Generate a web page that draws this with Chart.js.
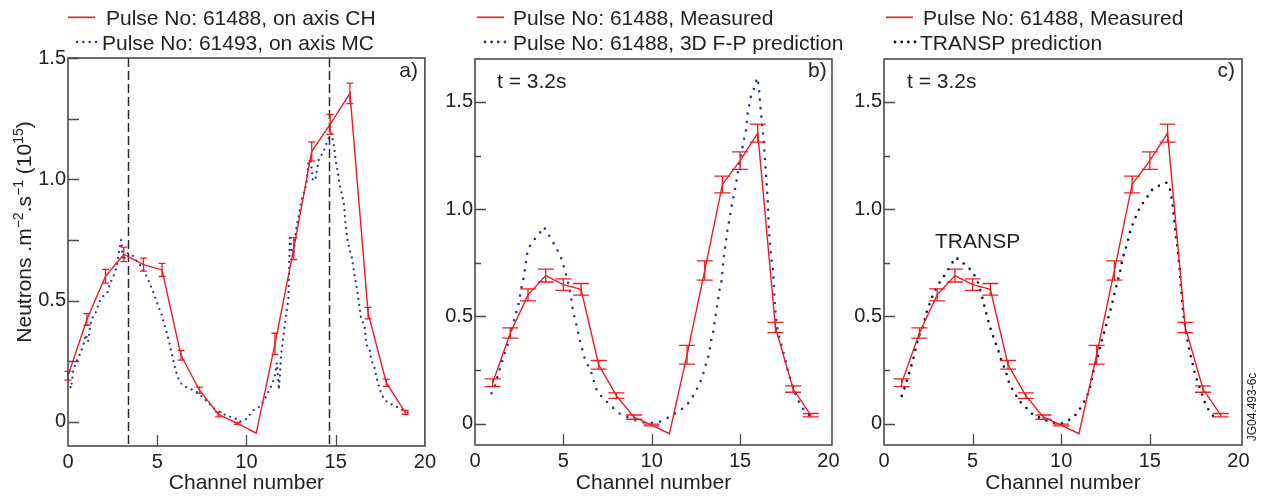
<!DOCTYPE html>
<html><head><meta charset="utf-8">
<script src="https://cdn.jsdelivr.net/npm/chart.js@4.4.1/dist/chart.umd.min.js"></script>
<style>
html,body{margin:0;padding:0;background:#fff;}
#wrap{position:relative;width:1265px;height:497px;overflow:hidden;background:#fff;}
canvas{position:absolute;top:0;}
</style></head><body>
<div id="wrap">
<canvas id="ca" width="440" height="497" style="left:0px"></canvas>
<canvas id="cb" width="420" height="497" style="left:430px"></canvas>
<canvas id="cc" width="425" height="497" style="left:840px"></canvas>
</div>
<script>
// ---------- data ----------
const xTickValues = [0, 5, 10, 15, 20];
const yTickValues = [0, 0.25, 0.5, 0.75, 1.0, 1.25, 1.5];
const channels = [1, 2, 3, 4, 5, 6, 7, 8, 9, 10, 11, 12, 13, 14, 15, 16, 17, 18, 19];
const measuredY = [0.19, 0.422, 0.60, 0.69, 0.648, 0.626, 0.274, 0.13, 0.03, -0.007, -0.047, 0.321, 0.714, 1.115, 1.226, 1.354, 0.448, 0.161, 0.039];
const measuredErr = [0.018, 0.024, 0.028, 0.03, 0.027, 0.027, 0.02, 0.013, 0.01, 0.004, 0, 0.044, 0.045, 0.039, 0.041, 0.042, 0.024, 0.015, 0.008];
// panel a: positions of the measured channels on its own axis
const aMeasuredX = [0, 1.06, 2.1, 3.13, 4.23, 5.27, 6.33, 7.37, 8.43, 9.49, 10.55, 11.6, 12.65, 13.66, 14.69, 15.8, 16.82, 17.84, 18.9];
// panel a: pulse 61493 on axis MC
const aMcX = [0.0, 0.1, 0.17, 0.3, 0.45, 0.62, 0.84, 1.0, 1.12, 1.3, 1.55, 1.8, 2.0, 2.2, 2.35, 2.55, 2.7, 2.97, 3.1, 3.3, 3.53, 3.81, 4.0, 4.18, 4.4, 4.59, 4.8, 5.01, 5.24, 5.4, 5.53, 5.7, 5.85, 6.0, 6.13, 6.31, 6.55, 6.78, 7.05, 7.33, 7.55, 7.8, 8.05, 8.26, 8.55, 8.82, 9.1, 9.38, 9.56, 9.8, 10.0, 10.15, 10.3, 10.55, 10.77, 11.0, 11.2, 11.35, 11.5, 11.62, 11.7, 11.82, 11.95, 12.07, 12.17, 12.26, 12.35, 12.44, 12.55, 12.63, 12.72, 12.81, 12.9, 13.0, 13.09, 13.24, 13.37, 13.48, 13.6, 13.72, 13.85, 14.06, 14.3, 14.48, 14.62, 14.76, 14.89, 15.0, 15.1, 15.23, 15.36, 15.47, 15.54, 15.65, 15.78, 15.91, 16.06, 16.16, 16.34, 16.43, 16.62, 16.71, 16.9, 16.99, 17.18, 17.36, 17.55, 17.73, 18.0, 18.38, 18.75, 19.12];
const aMcY = [0.165, 0.15, 0.138, 0.215, 0.245, 0.27, 0.31, 0.36, 0.33, 0.42, 0.45, 0.5, 0.52, 0.53, 0.57, 0.6, 0.632, 0.75, 0.665, 0.694, 0.694, 0.667, 0.65, 0.632, 0.6, 0.569, 0.53, 0.486, 0.444, 0.4, 0.368, 0.32, 0.27, 0.22, 0.188, 0.16, 0.145, 0.139, 0.128, 0.118, 0.1, 0.083, 0.065, 0.049, 0.038, 0.028, 0.02, 0.014, 0.0, 0.004, 0.012, 0.025, 0.042, 0.055, 0.063, 0.09, 0.118, 0.14, 0.167, 0.2, 0.243, 0.132, 0.28, 0.354, 0.41, 0.458, 0.51, 0.77, 0.7, 0.68, 0.757, 0.805, 0.839, 0.875, 0.914, 0.948, 0.982, 1.07, 1.08, 0.996, 0.995, 1.084, 1.11, 1.146, 1.17, 1.19, 1.146, 1.078, 1.037, 0.975, 0.935, 0.894, 0.826, 0.757, 0.71, 0.676, 0.604, 0.563, 0.472, 0.424, 0.396, 0.319, 0.299, 0.257, 0.222, 0.16, 0.118, 0.09, 0.076, 0.063, 0.049, 0.035];
// panel b: 3D F-P prediction
const bFpX = [0.94, 1.13, 1.28, 1.43, 1.57, 1.72, 1.89, 2.04, 2.17, 2.28, 2.42, 2.51, 2.6, 2.7, 2.79, 2.89, 2.98, 3.26, 3.55, 3.89, 4.34, 4.58, 4.77, 4.96, 5.11, 5.26, 5.43, 5.53, 5.68, 5.81, 5.94, 6.06, 6.19, 6.62, 6.75, 6.94, 7.23, 7.6, 7.92, 8.26, 8.74, 9.2, 9.77, 10.25, 10.72, 11.09, 11.47, 11.9, 12.23, 12.5, 12.74, 12.89, 13.04, 13.23, 13.36, 13.49, 13.64, 13.74, 13.83, 13.96, 14.02, 14.11, 14.21, 14.3, 14.4, 14.49, 14.58, 14.68, 14.77, 14.92, 15.06, 15.21, 15.34, 15.43, 15.62, 15.81, 15.96, 16.06, 16.13, 16.23, 16.34, 16.43, 16.51, 16.57, 16.62, 16.7, 16.78, 16.85, 16.91, 16.94, 17.04, 17.13, 17.26, 17.42, 17.57, 17.75, 17.98, 18.17, 18.45, 18.74, 18.92];
const bFpY = [0.141, 0.176, 0.223, 0.262, 0.3, 0.34, 0.379, 0.426, 0.466, 0.505, 0.539, 0.575, 0.622, 0.661, 0.7, 0.755, 0.81, 0.85, 0.874, 0.917, 0.858, 0.819, 0.795, 0.75, 0.708, 0.658, 0.591, 0.528, 0.481, 0.434, 0.387, 0.348, 0.309, 0.23, 0.191, 0.144, 0.121, 0.089, 0.066, 0.042, 0.027, 0.011, 0.003, 0.003, 0.016, 0.038, 0.055, 0.078, 0.113, 0.152, 0.191, 0.226, 0.27, 0.32, 0.387, 0.434, 0.517, 0.567, 0.622, 0.669, 0.732, 0.796, 0.858, 0.913, 0.953, 1.0, 1.039, 1.079, 1.118, 1.197, 1.252, 1.322, 1.37, 1.448, 1.527, 1.566, 1.613, 1.574, 1.495, 1.409, 1.314, 1.204, 1.11, 1.031, 0.921, 0.827, 0.76, 0.724, 0.661, 0.583, 0.489, 0.426, 0.387, 0.34, 0.293, 0.23, 0.176, 0.129, 0.082, 0.05, 0.039];
// panel c: TRANSP prediction
const cTrX = [1.0, 1.17, 1.32, 1.6, 1.94, 2.17, 2.42, 2.79, 3.02, 3.55, 3.77, 4.06, 4.34, 4.47, 4.81, 5.09, 5.32, 5.51, 5.7, 5.94, 6.17, 6.42, 6.6, 6.89, 7.08, 7.36, 7.64, 8.02, 8.4, 8.87, 9.25, 9.62, 10.0, 10.38, 10.75, 11.1, 11.42, 11.6, 11.89, 12.08, 12.26, 12.45, 12.64, 12.83, 12.98, 13.15, 13.3, 13.43, 13.55, 13.68, 13.92, 14.15, 14.34, 14.57, 14.81, 15.06, 15.34, 15.62, 15.94, 16.13, 16.23, 16.32, 16.38, 16.47, 16.57, 16.64, 16.7, 16.74, 16.79, 16.83, 16.89, 16.98, 17.08, 17.17, 17.3, 17.42, 17.55, 17.74, 17.92, 18.11, 18.3, 18.58, 18.83];
const cTrY = [0.129, 0.168, 0.207, 0.285, 0.403, 0.442, 0.524, 0.607, 0.643, 0.708, 0.74, 0.775, 0.755, 0.748, 0.724, 0.693, 0.654, 0.599, 0.536, 0.461, 0.403, 0.348, 0.301, 0.238, 0.183, 0.144, 0.105, 0.074, 0.042, 0.024, 0.011, 0.003, 0.0, 0.014, 0.034, 0.074, 0.121, 0.16, 0.27, 0.317, 0.379, 0.434, 0.489, 0.544, 0.599, 0.654, 0.7, 0.755, 0.795, 0.827, 0.906, 0.953, 0.992, 1.024, 1.05, 1.086, 1.102, 1.113, 1.123, 1.094, 1.047, 1.0, 0.945, 0.874, 0.811, 0.756, 0.7, 0.654, 0.607, 0.56, 0.513, 0.458, 0.411, 0.364, 0.317, 0.277, 0.23, 0.183, 0.144, 0.097, 0.066, 0.034, 0.024];
// panel a: dashed reference channels
const aMarkerX = [3.36, 14.6];

// ---------- helpers ----------
const RED = '#ec1c24', BLUE = '#29349a', BLACK = '#111111', INK = '#222222', FRAME = '#4a4a4a';
const FONT = '"Liberation Sans", Arial, Helvetica, sans-serif';
Chart.defaults.font.family = FONT;
Chart.defaults.color = INK;
const pts = (xs, ys) => xs.map((x, i) => ({x: x, y: ys[i]}));
const yLabel = v => (Math.abs(v * 2 - Math.round(v * 2)) < 1e-9) ? (v === 0 ? '0' : v.toFixed(1)) : '';

const DECO = {
  ca: {capW: 7, yMinor: 11, panel: 'a)', panelX: 418, time: null,
       legend: [{x0: 68, x1: 95, tx: 106}, {x0: 77, x1: 96, tx: 102}],
       markers: aMarkerX, yTitle: true},
  cb: {capW: 16, yMinor: 6, panel: 'b)', panelX: 396.7, time: 67,
       legend: [{x0: 47, x1: 74, tx: 83}, {x0: 55, x1: 75, tx: 83}]},
  cc: {capW: 16, yMinor: 6, panel: 'c)', panelX: 395, time: 67,
       legend: [{x0: 46, x1: 73, tx: 83}, {x0: 55, x1: 75, tx: 80}],
       note: {text: 'TRANSP', x: 95, y: 248}, code: 'JG04.493-6c'}
};

const decoPlugin = {
  id: 'deco',
  beforeDatasetsDraw(chart) {
    const d = DECO[chart.canvas.id]; if (!d || !d.markers) return;
    const ctx = chart.ctx, a = chart.chartArea, xs = chart.scales.x;
    ctx.save();
    ctx.strokeStyle = '#2a2a2a'; ctx.lineWidth = 1.5; ctx.setLineDash([9, 4]);
    d.markers.forEach(m => {
      const px = Math.round(xs.getPixelForValue(m)) + 0.5;
      ctx.beginPath(); ctx.moveTo(px, a.top); ctx.lineTo(px, a.bottom); ctx.stroke();
    });
    ctx.restore();
  },
  afterDatasetsDraw(chart) {
    const d = DECO[chart.canvas.id]; if (!d) return;
    const ctx = chart.ctx, xs = chart.scales.x, ys = chart.scales.y;
    const data = chart.data.datasets[0].data;
    ctx.save();
    ctx.strokeStyle = RED; ctx.lineWidth = 1.3;
    data.forEach((p, i) => {
      const e = measuredErr[i]; if (!e) return;
      const px = xs.getPixelForValue(p.x);
      const y1 = ys.getPixelForValue(p.y - e), y2 = ys.getPixelForValue(p.y + e);
      const h = d.capW / 2;
      ctx.beginPath();
      ctx.moveTo(px, y1); ctx.lineTo(px, y2);
      ctx.moveTo(px - h, y1); ctx.lineTo(px + h, y1);
      ctx.moveTo(px - h, y2); ctx.lineTo(px + h, y2);
      ctx.stroke();
    });
    ctx.restore();
  },
  afterDraw(chart) {
    const d = DECO[chart.canvas.id]; if (!d) return;
    const ctx = chart.ctx, a = chart.chartArea, xs = chart.scales.x, ys = chart.scales.y;
    ctx.save();
    // frame
    ctx.strokeStyle = FRAME; ctx.lineWidth = 1.6; ctx.setLineDash([]);
    ctx.strokeRect(a.left, a.top, a.right - a.left, a.bottom - a.top);
    // inside ticks
    ctx.lineWidth = 1.3;
    ctx.beginPath();
    yTickValues.forEach(v => {
      const py = Math.round(ys.getPixelForValue(v)) + 0.5;
      const len = yLabel(v) ? 11 : d.yMinor;
      ctx.moveTo(a.left, py); ctx.lineTo(a.left + len, py);
    });
    xTickValues.forEach(v => {
      if (v <= 0 || v >= 20) return;
      const px = Math.round(xs.getPixelForValue(v)) + 0.5;
      ctx.moveTo(px, a.bottom); ctx.lineTo(px, a.bottom - 11);
    });
    ctx.stroke();
    // texts
    ctx.fillStyle = INK;
    ctx.font = '21px ' + FONT;
    ctx.textBaseline = 'alphabetic';
    ctx.textAlign = 'right';
    ctx.fillText(d.panel, d.panelX, 77);
    ctx.textAlign = 'left';
    if (d.time !== null && d.time !== undefined) ctx.fillText('t = 3.2s', d.time, 88);
    if (d.note) ctx.fillText(d.note.text, d.note.x, d.note.y);
    // legend
    const rowsLine = [17.3, 42], rowsText = [25, 50];
    chart.data.datasets.forEach((ds, i) => {
      const L = d.legend[i]; if (!L) return;
      ctx.save();
      ctx.strokeStyle = ds.borderColor;
      if (ds.borderDash && ds.borderDash.length) {
        ctx.lineWidth = ds.borderWidth + 0.2; ctx.lineCap = 'round';
        const n = 4, step = (L.x1 - L.x0) / (n - 1);
        ctx.setLineDash([0, step]);
        ctx.beginPath(); ctx.moveTo(L.x0, rowsLine[i]); ctx.lineTo(L.x1 + 0.5, rowsLine[i]); ctx.stroke();
      } else {
        ctx.lineWidth = 1.6;
        ctx.beginPath(); ctx.moveTo(L.x0, rowsLine[i]); ctx.lineTo(L.x1, rowsLine[i]); ctx.stroke();
      }
      ctx.restore();
      ctx.fillText(ds.label, L.tx, rowsText[i]);
    });
    // rotated y title (panel a)
    if (d.yTitle) {
      const parts = [['Neutrons .m', 0], ['\u22122', 1], ['.s', 0], ['\u22121', 1], [' (10', 0], ['15', 1], [')', 0]];
      ctx.save();
      ctx.translate(31, 232); ctx.rotate(-Math.PI / 2);
      let total = 0;
      parts.forEach(p => { ctx.font = (p[1] ? '14px ' : '21px ') + FONT; total += ctx.measureText(p[0]).width; });
      let x = -total / 2;
      parts.forEach(p => {
        ctx.font = (p[1] ? '14px ' : '21px ') + FONT;
        ctx.fillText(p[0], x, p[1] ? -8 : 0);
        x += ctx.measureText(p[0]).width;
      });
      ctx.restore();
    }
    if (d.code) {
      ctx.save();
      ctx.translate(413, 407); ctx.rotate(-Math.PI / 2);
      ctx.font = '12px ' + FONT; ctx.textAlign = 'center'; ctx.textBaseline = 'middle';
      ctx.fillText(d.code, 0, 0);
      ctx.restore();
    }
    ctx.restore();
  }
};
Chart.register(decoPlugin);

function options(o) {
  return {
    responsive: false, animation: false, events: [],
    layout: {padding: {left: 0, right: o.padR, top: o.padT, bottom: 0}},
    plugins: {legend: {display: false}, tooltip: {enabled: false}},
    scales: {
      x: {type: 'linear', min: 0, max: o.xMax,
          grid: {display: false, drawTicks: false}, border: {display: false},
          afterBuildTicks: s => { s.ticks = xTickValues.map(v => ({value: v})); },
          ticks: {padding: 4, autoSkip: false, maxRotation: 0, font: {size: 20}, color: INK, callback: v => String(v)},
          title: {display: true, text: 'Channel number', font: {size: 21}, color: INK, padding: {top: 0, bottom: 1}},
          afterFit: s => { s.height = o.xH; }},
      y: {type: 'linear', min: -0.1, max: o.yMax,
          grid: {display: false, drawTicks: false}, border: {display: false},
          afterBuildTicks: s => { s.ticks = yTickValues.map(v => ({value: v})); },
          ticks: {padding: 2, autoSkip: false, font: {size: 20}, color: INK, callback: v => yLabel(v)},
          afterFit: s => { s.width = o.yW; }}
    }
  };
}

function redSet(label, xs) {
  return {label: label, data: pts(xs, measuredY), borderColor: RED, backgroundColor: RED,
          borderWidth: 1.4, pointRadius: 0, tension: 0, fill: false};
}
function dotSet(label, xs, ys, color, gap, w) {
  return {label: label, data: pts(xs, ys), borderColor: color, backgroundColor: color,
          borderWidth: w, borderDash: [0, gap], borderCapStyle: 'round', pointRadius: 0, tension: 0, fill: false};
}

new Chart(document.getElementById('ca'), {
  type: 'line',
  data: {datasets: [
    redSet('Pulse No: 61488, on axis CH', aMeasuredX),
    dotSet('Pulse No: 61493, on axis MC', aMcX, aMcY, BLUE, 6, 2.3)
  ]},
  options: options({padR: 13, padT: 58, xH: 51, yW: 68, xMax: 20, yMax: 1.5})
});
new Chart(document.getElementById('cb'), {
  type: 'line',
  data: {datasets: [
    redSet('Pulse No: 61488, Measured', channels),
    dotSet('Pulse No: 61488, 3D F-P prediction', bFpX, bFpY, BLUE, 8.5, 2.6)
  ]},
  options: options({padR: 18, padT: 59, xH: 52, yW: 45, xMax: 20.2, yMax: 1.7})
});
new Chart(document.getElementById('cc'), {
  type: 'line',
  data: {datasets: [
    redSet('Pulse No: 61488, Measured', channels),
    dotSet('TRANSP prediction', cTrX, cTrY, BLACK, 8, 2.6)
  ]},
  options: options({padR: 23, padT: 59, xH: 52, yW: 44, xMax: 20.2, yMax: 1.7})
});
</script>
</body></html>
